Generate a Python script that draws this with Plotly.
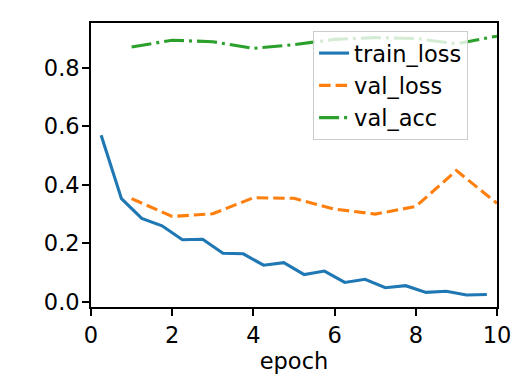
import plotly.graph_objects as go

train_x = [0.25, 0.75, 1.25, 1.75, 2.25, 2.75, 3.25, 3.75, 4.25, 4.75,
           5.25, 5.75, 6.25, 6.75, 7.25, 7.75, 8.25, 8.75, 9.25, 9.75]
train_loss = [0.570, 0.353, 0.285, 0.260, 0.212, 0.214, 0.166, 0.164, 0.125, 0.134,
              0.093, 0.105, 0.066, 0.077, 0.048, 0.055, 0.032, 0.036, 0.023, 0.025]
val_x = [1, 2, 3, 4, 5, 6, 7, 8, 9, 10]
val_loss = [0.353, 0.292, 0.301, 0.356, 0.354, 0.317, 0.300, 0.326, 0.449, 0.337]
val_acc = [0.872, 0.895, 0.890, 0.867, 0.880, 0.898, 0.904, 0.901, 0.883, 0.909]

x_ticks = [0, 2, 4, 6, 8, 10]
y_ticks = [0.0, 0.2, 0.4, 0.6, 0.8]

FONT = "DejaVu Sans"
FS = 22.5
LW = 3.1

fig = go.Figure()
fig.add_trace(go.Scatter(x=train_x, y=train_loss, mode="lines", name="train_loss",
                         line=dict(color="#1f77b4", width=LW), legendgroup="a"))
fig.add_trace(go.Scatter(x=val_x, y=val_loss, mode="lines", name="val_loss",
                         line=dict(color="#ff7f0e", width=LW, dash="11.5px,5px"), legendgroup="b"))
fig.add_trace(go.Scatter(x=val_x, y=val_acc, mode="lines", name="val_acc",
                         line=dict(color="#2ca02c", width=LW, dash="20px,5px,3px,5px"), legendgroup="c"))

axis_common = dict(showline=True, linecolor="black", linewidth=1.7, mirror=True,
                   ticks="outside", ticklen=7, tickwidth=1.7, tickcolor="black",
                   showgrid=False, zeroline=False, automargin=False,
                   tickfont=dict(family=FONT, size=FS, color="black"))

fig.update_xaxes(range=[0, 10], tickvals=x_ticks, ticktext=[str(v) for v in x_ticks],
                 title=dict(text="epoch", font=dict(family=FONT, size=FS, color="black"), standoff=4),
                 **axis_common)
fig.update_yaxes(range=[-0.018, 0.954], tickvals=y_ticks, ticktext=[f"{v:.1f}" for v in y_ticks],
                 ticklabelstandoff=-2, **axis_common)

# the page body has an 8px default margin, so the figure is 8px smaller
fig.update_layout(
    width=518, height=373,
    margin=dict(l=83, r=29, t=15, b=74),
    paper_bgcolor="white", plot_bgcolor="white",
    font=dict(family=FONT, size=FS, color="black"),
    legend=dict(x=0.547, y=0.972, xanchor="left", yanchor="top",
                bgcolor="rgba(255,255,255,0.8)", bordercolor="#cccccc", borderwidth=1,
                entrywidth=140, entrywidthmode="pixels",
                font=dict(family=FONT, size=FS, color="black"), tracegroupgap=0),
)

fig.write_html("out.html")
